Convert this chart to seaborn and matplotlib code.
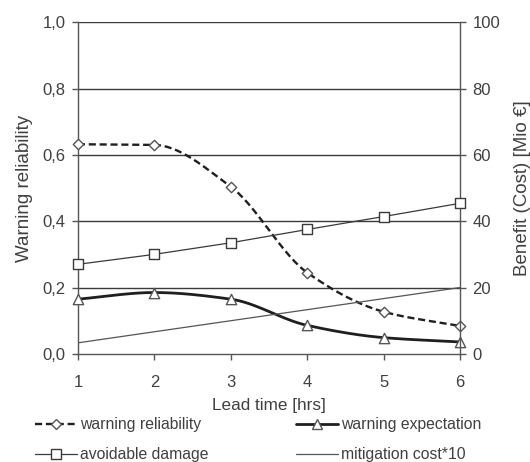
import numpy as np
import pandas as pd
import matplotlib
matplotlib.use("Agg")
import matplotlib.pyplot as plt
from matplotlib.lines import Line2D
from matplotlib.ticker import FuncFormatter
import seaborn as sns

# Lead time in hours
lead_time = [1, 2, 3, 4, 5, 6]
# Left axis series
warning_reliability = [0.632, 0.630, 0.504, 0.245, 0.127, 0.084]
warning_expectation = [0.165, 0.185, 0.165, 0.086, 0.049, 0.036]
# Right axis series [Mio €]
avoidable_damage = [27.0, 30.0, 33.5, 37.5, 41.4, 45.4]
mitigation_cost_x10 = [3.33, 6.67, 10.0, 13.33, 16.67, 20.0]

sns.set_style("white")
plt.rcParams["font.family"] = ["Liberation Sans", "DejaVu Sans"]
plt.rcParams["font.size"] = 11

TXT = "#404040"
LINE = "#1f1f1f"
GRID = "#3a3a3a"


def smooth(x, y, n=30):
    """Monotone cubic (Fritsch-Carlson) path through the points, for the smoothed line style."""
    x = np.asarray(x, float)
    y = np.asarray(y, float)
    h = np.diff(x)
    d = np.diff(y) / h
    m = np.zeros_like(y)
    m[0], m[-1] = d[0], d[-1]
    for i in range(1, len(y) - 1):
        if d[i - 1] * d[i] > 0:
            w1 = 2 * h[i] + h[i - 1]
            w2 = h[i] + 2 * h[i - 1]
            m[i] = (w1 + w2) / (w1 / d[i - 1] + w2 / d[i])
    xs, ys = [], []
    t = np.linspace(0, 1, n, endpoint=False)
    h00 = 2 * t ** 3 - 3 * t ** 2 + 1
    h10 = t ** 3 - 2 * t ** 2 + t
    h01 = -2 * t ** 3 + 3 * t ** 2
    h11 = t ** 3 - t ** 2
    for i in range(len(y) - 1):
        xs.extend(x[i] + t * h[i])
        ys.extend(h00 * y[i] + h10 * h[i] * m[i] + h01 * y[i + 1] + h11 * h[i] * m[i + 1])
    xs.append(x[-1])
    ys.append(y[-1])
    return np.array(xs), np.array(ys)


fig, ax = plt.subplots(figsize=(5.3, 4.62), dpi=100)
fig.subplots_adjust(left=0.147, right=0.868, top=0.952, bottom=0.234)
ax2 = ax.twinx()

# grid lines
for g in [0.2, 0.4, 0.6, 0.8, 1.0]:
    ax.axhline(g, color=GRID, lw=1.0, zorder=0)

# warning reliability: dashed smoothed line with diamonds
sx, sy = smooth(lead_time, warning_reliability)
sns.lineplot(x=sx, y=sy, ax=ax, sort=False, estimator=None, color=LINE,
             lw=1.7, linestyle=(0, (3, 1.6)))
sns.scatterplot(x=lead_time, y=warning_reliability, ax=ax, marker="D", s=28,
                facecolor="white", edgecolor="#555555", linewidth=1.0,
                zorder=5, clip_on=False)

# warning expectation: thick smoothed line with triangles
sx, sy = smooth(lead_time, warning_expectation)
sns.lineplot(x=sx, y=sy, ax=ax, sort=False, estimator=None, color=LINE, lw=2.0)
sns.scatterplot(x=lead_time, y=warning_expectation, ax=ax, marker="^", s=55,
                facecolor="white", edgecolor="#555555", linewidth=1.0,
                zorder=5, clip_on=False)

# avoidable damage: thin line with squares
sns.lineplot(x=lead_time, y=avoidable_damage, ax=ax2, color="#3a3a3a", lw=0.9)
sns.scatterplot(x=lead_time, y=avoidable_damage, ax=ax2, marker="s", s=50,
                facecolor="white", edgecolor="#3a3a3a", linewidth=1.0,
                zorder=5, clip_on=False)

# mitigation cost * 10: thin plain line
sns.lineplot(x=lead_time, y=mitigation_cost_x10, ax=ax2, color="#555555", lw=0.9)

ax.set_xlim(1, 6)
ax.set_ylim(0, 1.0)
ax2.set_ylim(0, 100)
ax.set_xticks(lead_time)
ax.set_yticks([0, 0.2, 0.4, 0.6, 0.8, 1.0])
ax.yaxis.set_major_formatter(FuncFormatter(lambda v, p: f"{v:.1f}".replace(".", ",")))
ax2.set_yticks([0, 20, 40, 60, 80, 100])

for a in (ax, ax2):
    for s in a.spines.values():
        s.set_visible(False)
ax.spines["left"].set_visible(True)
ax.spines["bottom"].set_visible(True)
ax2.spines["right"].set_visible(True)
for s in (ax.spines["left"], ax.spines["bottom"], ax2.spines["right"]):
    s.set_color("#555555")
    s.set_linewidth(1.0)

ax.tick_params(axis="y", direction="out", length=4, width=1, color="#555555",
               labelcolor=TXT, labelsize=12, left=True, pad=5)
ax.tick_params(axis="x", direction="out", length=4, width=1, color="#555555",
               labelcolor=TXT, labelsize=12, bottom=True, pad=11)
ax2.tick_params(axis="y", direction="out", length=4, width=1, color="#555555",
                labelcolor=TXT, labelsize=12, right=True, pad=5)

ax.set_xlabel("Lead time [hrs]", color=TXT, fontsize=12.3, labelpad=6)
ax.set_ylabel("Warning reliability", color=TXT, fontsize=13.5, labelpad=7)
ax2.set_ylabel("Benefit (Cost) [Mio €]", color=TXT, fontsize=13.5, labelpad=10)

handles = [
    Line2D([], [], color=LINE, lw=1.7, linestyle=(0, (3, 1.6)), marker="D",
           markersize=5, markerfacecolor="white", markeredgecolor="#555555"),
    Line2D([], [], color="#3a3a3a", lw=0.9, marker="s", markersize=7,
           markerfacecolor="white", markeredgecolor="#3a3a3a"),
    Line2D([], [], color=LINE, lw=2.0, marker="^", markersize=7,
           markerfacecolor="white", markeredgecolor="#555555"),
    Line2D([], [], color="#555555", lw=0.9),
]
labels = ["warning reliability", "avoidable damage",
          "warning expectation", "mitigation cost*10"]
leg = fig.legend(handles, labels, ncol=2, loc="lower left",
                 bbox_to_anchor=(0.045, -0.024), frameon=False, fontsize=11.3,
                 handlelength=2.7, handletextpad=0.15, columnspacing=5.6,
                 labelspacing=0.95, labelcolor=TXT, borderaxespad=0.3)

fig.savefig("out.png", dpi=100)
